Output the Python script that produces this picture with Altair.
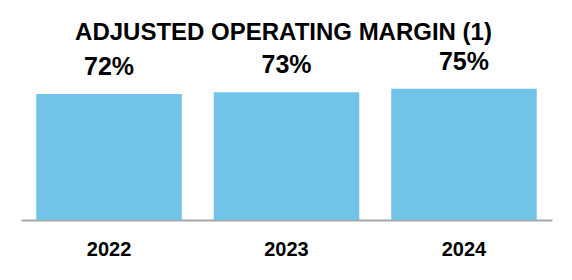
import altair as alt
import pandas as pd

years = ["2022", "2023", "2024"]
values = [72, 73, 75]
labels = ["72%", "73%", "75%"]

df = pd.DataFrame({"year": years, "value": values, "label": labels})

FONT = "Liberation Sans"

base = alt.Chart(df).encode(
    x=alt.X(
        "year:N",
        sort=years,
        scale=alt.Scale(paddingInner=0.18, paddingOuter=0.086),
        axis=alt.Axis(
            title=None,
            labelAngle=0,
            ticks=False,
            domainColor="#a6a6a6",
            domainWidth=2,
            labelFontSize=20,
            labelFont=FONT,
            labelFontWeight="bold",
            labelColor="black",
            labelPadding=19,
        ),
    ),
    y=alt.Y("value:Q", scale=alt.Scale(domain=[0, 100]), axis=None),
)

bars = base.mark_bar(color="#71C4E7")
text = base.mark_text(
    font=FONT, fontSize=25, fontWeight="bold", color="black",
    baseline="alphabetic", dy=-19,
).encode(text="label:N")

chart = (
    (bars + text)
    .properties(
        width=531,
        height=175,
        autosize=alt.AutoSizeParams(type="none"),
        padding={"left": 21, "top": 45, "right": 20, "bottom": 60},
        title=alt.TitleParams(
            "ADJUSTED OPERATING MARGIN (1)",
            font=FONT, fontSize=24, fontWeight="bold", color="black",
            anchor="middle", baseline="alphabetic", offset=7, dx=-3, dy=26,
        ),
    )
    .configure_view(stroke=None)
)

chart.save("out.html", embed_options={"renderer": "svg", "actions": False})
